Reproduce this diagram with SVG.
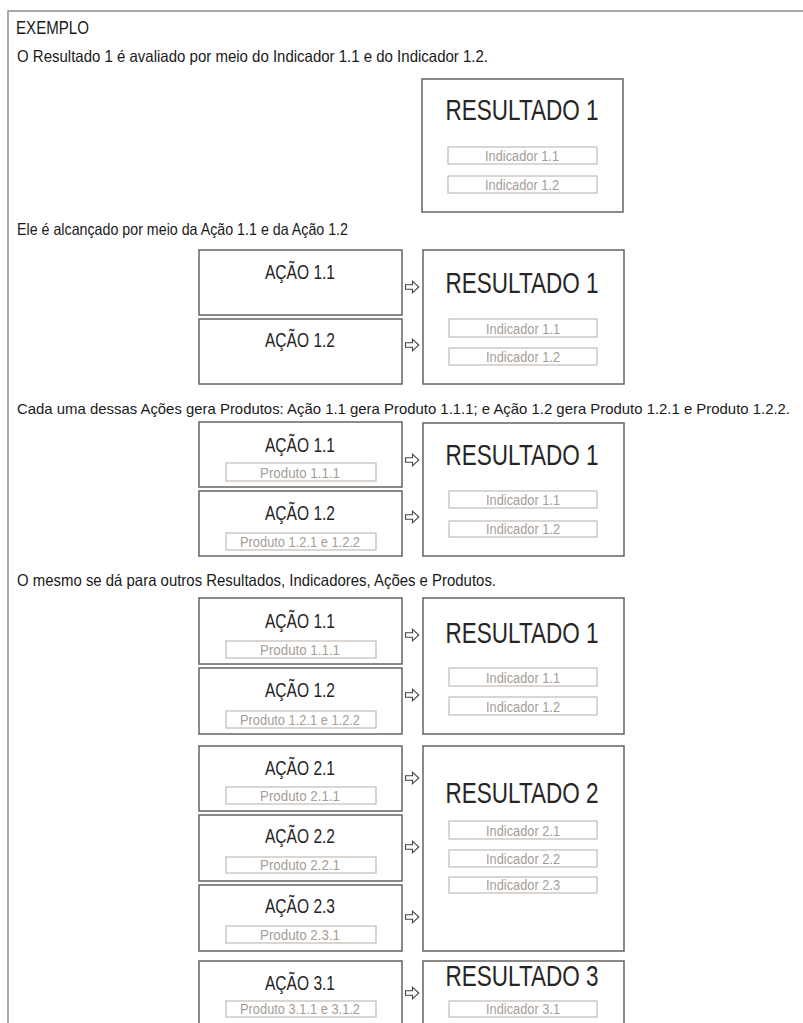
<svg xmlns="http://www.w3.org/2000/svg" width="803" height="1023" viewBox="0 0 803 1023">
<style>
.frame{fill:#fff;stroke:#8c8c8c;stroke-width:1.5}
.box{fill:#fff;stroke:#67625e;stroke-width:1.5}
.sub{fill:#fff;stroke:#c8c0b9;stroke-width:1.3}
.body{font-family:"Liberation Sans",Arial,sans-serif;font-size:16.5px;fill:#1a1a1a}
.head{font-family:"Liberation Sans",Arial,sans-serif;font-size:17.5px;fill:#1a1a1a}
.act{font-family:"Liberation Sans",Arial,sans-serif;font-size:20px;fill:#262626;text-anchor:middle}
.res{font-family:"Liberation Sans",Arial,sans-serif;font-size:30px;fill:#262626;text-anchor:middle}
.st{font-family:"Liberation Sans",Arial,sans-serif;font-size:15.5px;fill:#a59d97;text-anchor:middle}
.arr{fill:#fff;stroke:#444;stroke-width:1.1;stroke-linejoin:miter}
</style>
<defs>
<path id="arrow" d="M-6.5,-2.2 H0.5 V-5.8 L6.8,0 L0.5,5.8 V2.2 H-6.5 Z"/>
</defs>
<rect class="frame" x="8" y="11" width="820" height="1040"/>
<g id="texts">
<text class="head" x="16" y="34" textLength="73" lengthAdjust="spacingAndGlyphs">EXEMPLO</text>
<text class="body" x="17" y="62" textLength="471" lengthAdjust="spacingAndGlyphs">O Resultado 1 é avaliado por meio do Indicador 1.1 e do Indicador 1.2.</text>
<text class="body" x="17" y="235" textLength="331" lengthAdjust="spacingAndGlyphs">Ele é alcançado por meio da Ação 1.1 e da Ação 1.2</text>
<text class="body" x="17" y="414" style="font-size:14.8px" textLength="773" lengthAdjust="spacingAndGlyphs">Cada uma dessas Ações gera Produtos: Ação 1.1 gera Produto 1.1.1; e Ação 1.2 gera Produto 1.2.1 e Produto 1.2.2.</text>
<text class="body" x="17" y="586" textLength="479" lengthAdjust="spacingAndGlyphs">O mesmo se dá para outros Resultados, Indicadores, Ações e Produtos.</text>
</g>

<!-- Section 1 -->
<g id="s1-resultado1">
<rect class="box" x="422" y="79" width="201" height="133"/>
<text class="res" x="522" y="120" textLength="153" lengthAdjust="spacingAndGlyphs">RESULTADO 1</text>
<rect class="sub" x="448" y="147" width="149" height="17"/>
<text class="st" x="522" y="161" textLength="74" lengthAdjust="spacingAndGlyphs">Indicador 1.1</text>
<rect class="sub" x="448" y="176" width="149" height="17"/>
<text class="st" x="522" y="190" textLength="74" lengthAdjust="spacingAndGlyphs">Indicador 1.2</text>
</g>

<!-- Section 2 -->
<g id="s2-acao11">
<rect class="box" x="199" y="250" width="203" height="65"/>
<text class="act" x="300" y="279" textLength="70" lengthAdjust="spacingAndGlyphs">AÇÃO 1.1</text>
</g>
<g id="s2-acao12">
<rect class="box" x="199" y="319" width="203" height="65"/>
<text class="act" x="300" y="347" textLength="70" lengthAdjust="spacingAndGlyphs">AÇÃO 1.2</text>
</g>
<g id="s2-resultado1">
<rect class="box" x="423" y="250" width="201" height="134"/>
<text class="res" x="522" y="293" textLength="153" lengthAdjust="spacingAndGlyphs">RESULTADO 1</text>
<rect class="sub" x="449" y="319" width="148" height="18"/>
<text class="st" x="523" y="334" textLength="74" lengthAdjust="spacingAndGlyphs">Indicador 1.1</text>
<rect class="sub" x="449" y="348" width="148" height="17"/>
<text class="st" x="523" y="362" textLength="74" lengthAdjust="spacingAndGlyphs">Indicador 1.2</text>
</g>

<!-- Section 3 -->
<g id="s3-acao11">
<rect class="box" x="199" y="422" width="203" height="65"/>
<text class="act" x="300" y="452" textLength="70" lengthAdjust="spacingAndGlyphs">AÇÃO 1.1</text>
<rect class="sub" x="226" y="463" width="150" height="18"/>
<text class="st" x="300" y="478" textLength="80" lengthAdjust="spacingAndGlyphs">Produto 1.1.1</text>
</g>
<g id="s3-acao12">
<rect class="box" x="199" y="491" width="203" height="65"/>
<text class="act" x="300" y="520" textLength="70" lengthAdjust="spacingAndGlyphs">AÇÃO 1.2</text>
<rect class="sub" x="226" y="533" width="150" height="17"/>
<text class="st" x="300" y="547" textLength="120" lengthAdjust="spacingAndGlyphs">Produto 1.2.1 e 1.2.2</text>
</g>
<g id="s3-resultado1">
<rect class="box" x="423" y="423" width="201" height="133"/>
<text class="res" x="522" y="465" textLength="153" lengthAdjust="spacingAndGlyphs">RESULTADO 1</text>
<rect class="sub" x="449" y="491" width="148" height="17"/>
<text class="st" x="523" y="505" textLength="74" lengthAdjust="spacingAndGlyphs">Indicador 1.1</text>
<rect class="sub" x="449" y="521" width="148" height="16"/>
<text class="st" x="523" y="534" textLength="74" lengthAdjust="spacingAndGlyphs">Indicador 1.2</text>
</g>

<!-- Section 4 -->
<g id="s4-acao11">
<rect class="box" x="199" y="598" width="203" height="66"/>
<text class="act" x="300" y="628" textLength="70" lengthAdjust="spacingAndGlyphs">AÇÃO 1.1</text>
<rect class="sub" x="226" y="641" width="150" height="17"/>
<text class="st" x="300" y="655" textLength="80" lengthAdjust="spacingAndGlyphs">Produto 1.1.1</text>
</g>
<g id="s4-acao12">
<rect class="box" x="199" y="668" width="203" height="66"/>
<text class="act" x="300" y="697" textLength="70" lengthAdjust="spacingAndGlyphs">AÇÃO 1.2</text>
<rect class="sub" x="226" y="711" width="150" height="17"/>
<text class="st" x="300" y="725" textLength="120" lengthAdjust="spacingAndGlyphs">Produto 1.2.1 e 1.2.2</text>
</g>
<g id="s4-resultado1">
<rect class="box" x="423" y="598" width="201" height="136"/>
<text class="res" x="522" y="643" textLength="153" lengthAdjust="spacingAndGlyphs">RESULTADO 1</text>
<rect class="sub" x="449" y="668" width="148" height="18"/>
<text class="st" x="523" y="683" textLength="74" lengthAdjust="spacingAndGlyphs">Indicador 1.1</text>
<rect class="sub" x="449" y="697" width="148" height="18"/>
<text class="st" x="523" y="712" textLength="74" lengthAdjust="spacingAndGlyphs">Indicador 1.2</text>
</g>

<!-- Section 5 -->
<g id="s5-acao21">
<rect class="box" x="199" y="746" width="203" height="65"/>
<text class="act" x="300" y="775" textLength="70" lengthAdjust="spacingAndGlyphs">AÇÃO 2.1</text>
<rect class="sub" x="226" y="787" width="150" height="17"/>
<text class="st" x="300" y="801" textLength="80" lengthAdjust="spacingAndGlyphs">Produto 2.1.1</text>
</g>
<g id="s5-acao22">
<rect class="box" x="199" y="815" width="203" height="66"/>
<text class="act" x="300" y="843" textLength="70" lengthAdjust="spacingAndGlyphs">AÇÃO 2.2</text>
<rect class="sub" x="226" y="857" width="150" height="16"/>
<text class="st" x="300" y="870" textLength="80" lengthAdjust="spacingAndGlyphs">Produto 2.2.1</text>
</g>
<g id="s5-acao23">
<rect class="box" x="199" y="885" width="203" height="66"/>
<text class="act" x="300" y="913" textLength="70" lengthAdjust="spacingAndGlyphs">AÇÃO 2.3</text>
<rect class="sub" x="226" y="926" width="150" height="17"/>
<text class="st" x="300" y="940" textLength="80" lengthAdjust="spacingAndGlyphs">Produto 2.3.1</text>
</g>
<g id="s5-resultado2">
<rect class="box" x="423" y="746" width="201" height="205"/>
<text class="res" x="522" y="803" textLength="153" lengthAdjust="spacingAndGlyphs">RESULTADO 2</text>
<rect class="sub" x="449" y="821" width="148" height="18"/>
<text class="st" x="523" y="836" textLength="74" lengthAdjust="spacingAndGlyphs">Indicador 2.1</text>
<rect class="sub" x="449" y="850" width="148" height="17"/>
<text class="st" x="523" y="864" textLength="74" lengthAdjust="spacingAndGlyphs">Indicador 2.2</text>
<rect class="sub" x="449" y="877" width="148" height="16"/>
<text class="st" x="523" y="890" textLength="74" lengthAdjust="spacingAndGlyphs">Indicador 2.3</text>
</g>

<!-- Section 6 -->
<g id="s6-acao31">
<rect class="box" x="199" y="961" width="203" height="80"/>
<text class="act" x="300" y="990" textLength="70" lengthAdjust="spacingAndGlyphs">AÇÃO 3.1</text>
<rect class="sub" x="226" y="1001" width="150" height="16"/>
<text class="st" x="300" y="1014" textLength="120" lengthAdjust="spacingAndGlyphs">Produto 3.1.1 e 3.1.2</text>
</g>
<g id="s6-resultado3">
<rect class="box" x="423" y="961" width="201" height="80"/>
<text class="res" x="522" y="986" textLength="153" lengthAdjust="spacingAndGlyphs">RESULTADO 3</text>
<rect class="sub" x="449" y="1001" width="148" height="16"/>
<text class="st" x="523" y="1014" textLength="74" lengthAdjust="spacingAndGlyphs">Indicador 3.1</text>
</g>

<g id="connectors">
<use href="#arrow" class="arr" x="412" y="287"/>
<use href="#arrow" class="arr" x="412" y="345"/>
<use href="#arrow" class="arr" x="412" y="460"/>
<use href="#arrow" class="arr" x="412" y="517"/>
<use href="#arrow" class="arr" x="412" y="635"/>
<use href="#arrow" class="arr" x="412" y="695"/>
<use href="#arrow" class="arr" x="412" y="778"/>
<use href="#arrow" class="arr" x="412" y="847"/>
<use href="#arrow" class="arr" x="412" y="917"/>
<use href="#arrow" class="arr" x="412" y="993"/>
</g>
</svg>
